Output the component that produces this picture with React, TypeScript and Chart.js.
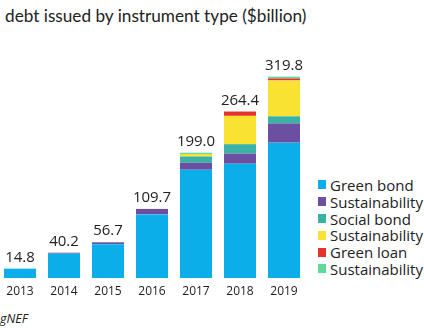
import React, { useEffect, useRef } from "react";
import { Chart, registerables } from "chart.js";

Chart.register(...registerables);

const years = ["2013", "2014", "2015", "2016", "2017", "2018", "2019"];
const totals = [14.8, 40.2, 56.7, 109.7, 199.0, 264.4, 319.8];
const greenBond = [14.8, 38.7, 53.7, 101.0, 172.0, 181.5, 215.0];
const sustainabilityBond = [0, 1.5, 3.0, 8.7, 11.0, 16.0, 30.5];
const socialBond = [0, 0, 0, 0, 10.0, 15.0, 11.3];
const sustainabilityLoan = [0, 0, 0, 0, 4.0, 45.0, 57.0];
const greenLoan = [0, 0, 0, 0, 0, 6.9, 3.0];
const sustainabilityOther = [0, 0, 0, 0, 2.0, 0, 3.0];

const seriesNames = ["Green bond", "Sustainability", "Social bond", "Sustainability", "Green loan", "Sustainability"];
const seriesColors = ["#0BAEE8", "#6C4FA0", "#3AB3A4", "#FAE232", "#E4332B", "#5ED89B"];
const seriesData = [greenBond, sustainabilityBond, socialBond, sustainabilityLoan, greenLoan, sustainabilityOther];

const FONT = "'Open Sans', Lato, sans-serif";
const TITLE_FONT = "Lato, 'Open Sans', sans-serif";

const totalLabels = {
  id: "totalLabels",
  afterDatasetsDraw(chart: any) {
    const { ctx, scales } = chart;
    ctx.save();
    ctx.font = `15px ${FONT}`;
    ctx.fillStyle = "#222";
    ctx.textAlign = "center";
    ctx.textBaseline = "alphabetic";
    totals.forEach((t, i) => {
      const x = scales.x.getPixelForValue(i);
      const y = scales.y.getPixelForValue(t);
      ctx.fillText(t.toFixed(1), x, y - 7);
    });
    ctx.restore();
  },
};

export default function App() {
  const ref = useRef<HTMLCanvasElement>(null);
  useEffect(() => {
    if (!ref.current) return;
    const chart = new Chart(ref.current, {
      type: "bar",
      data: {
        labels: years,
        datasets: seriesData.map((d, i) => ({
          label: seriesNames[i],
          data: d,
          backgroundColor: seriesColors[i],
          borderWidth: 0,
          categoryPercentage: 1,
          barPercentage: 0.727,
        })),
      },
      options: {
        responsive: false,
        animation: false,
        layout: { padding: { top: 40, left: 0, right: 0, bottom: 0 } },
        plugins: { legend: { display: false }, title: { display: false }, tooltip: { enabled: false } },
        scales: {
          x: {
            stacked: true,
            grid: { display: false, drawTicks: false },
            border: { display: false },
            ticks: { color: "#222", font: { family: FONT, size: 12 }, padding: 6, maxRotation: 0 },
            afterFit(scale: any) {
              scale.height = 22;
            },
          },
          y: {
            stacked: true,
            display: false,
            min: 0,
            max: 378,
          },
        },
      },
      plugins: [totalLabels],
    });
    return () => chart.destroy();
  }, []);

  return (
    <div style={{ position: "fixed", left: 0, top: 0, width: 424, height: 328, background: "#fff", overflow: "hidden", fontFamily: FONT, color: "#222" }}>
      <div style={{ position: "absolute", left: 5, top: 4, fontSize: 17.2, fontFamily: TITLE_FONT, whiteSpace: "nowrap", lineHeight: "24px" }}>
        debt issued by instrument type ($billion)
      </div>
      <canvas ref={ref} width={308} height={300} style={{ position: "absolute", left: -2, top: 0 }} />
      <div style={{ position: "absolute", left: 318, top: 176.5 }}>
        {seriesNames.map((n, i) => (
          <div key={i} style={{ display: "flex", alignItems: "center", height: 16.8, whiteSpace: "nowrap", fontSize: 15 }}>
            <span style={{ display: "inline-block", width: 8, height: 9, background: seriesColors[i], marginRight: 4 }} />
            <span>{n}</span>
          </div>
        ))}
      </div>
      <div style={{ position: "absolute", left: 0, top: 310, fontSize: 12.5, fontStyle: "italic", whiteSpace: "nowrap" }}>gNEF</div>
    </div>
  );
}
